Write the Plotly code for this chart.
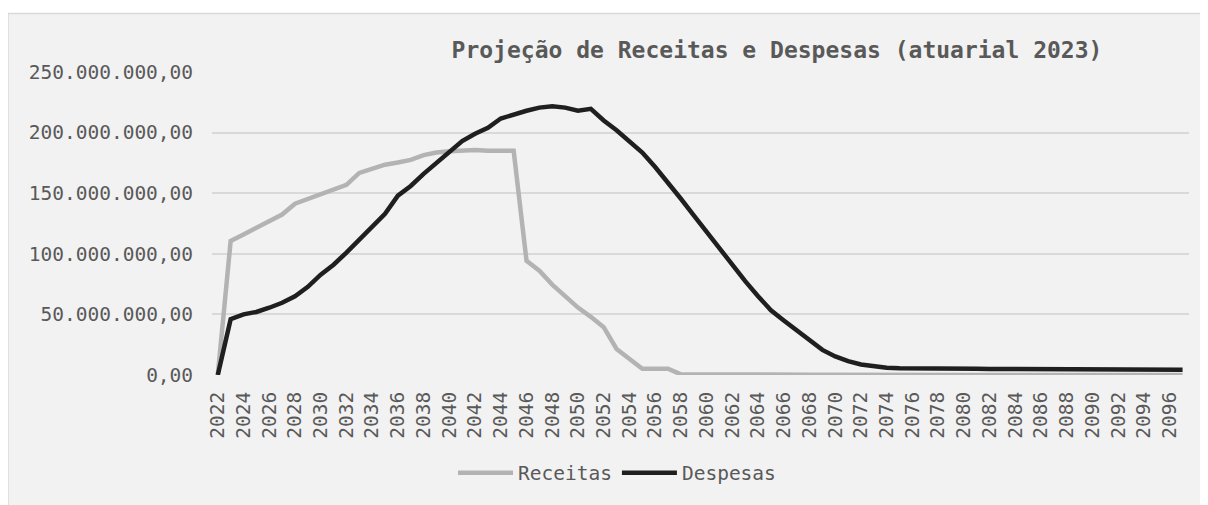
import plotly.graph_objects as go

years = list(range(2022, 2098))

receitas_mi = [
    0, 110.6, 116, 121.7, 127, 132.4, 141.3, 145.4, 148.7, 152.8,
    156.9, 166.7, 170, 173.5, 175.4, 177.5, 181.4, 183.6, 184.6, 185.2,
    185.7, 185, 185, 185, 94.2, 86, 74.6, 65, 55.6, 48,
    39.5, 21.5, 13.3, 5.2, 5.2, 5.2, 0.5, 0.4, 0.4, 0.4,
    0.4, 0.4, 0.3, 0.3, 0.3, 0.3, 0.3, 0.3, 0.2, 0.2,
    0.2, 0.2, 0.2, 0.2, 0.2, 0.2, 0.2, 0.2, 0.1, 0.1,
    0.1, 0.1, 0.1, 0.1, 0.1, 0.1, 0.1, 0.1, 0.1, 0.1,
    0.1, 0.1, 0.1, 0.1, 0.1, 0.1,
]

despesas_mi = [
    0, 46, 50, 52, 55.5, 59.6, 65, 72.7, 82.8, 91,
    101, 112, 122.5, 133, 148, 156, 166, 175, 184.6, 193,
    199, 204, 211.6, 215, 218, 220.6, 221.7, 220.6, 218, 219.6,
    210, 202, 193, 183.6, 171.6, 159, 145.4, 131.8, 118, 104,
    91, 77.4, 65, 53.4, 45, 37, 28.6, 20.7, 15.3, 11.4,
    8.7, 7.1, 6.0, 5.5, 5.3, 5.2, 5.2, 5.1, 5.1, 5.1,
    5.0, 5.0, 4.9, 4.9, 4.9, 4.8, 4.8, 4.8, 4.7, 4.7,
    4.6, 4.6, 4.5, 4.5, 4.4, 4.3,
]

tick_years = list(range(2022, 2097, 2))
y_ticks = [0, 50e6, 100e6, 150e6, 200e6, 250e6]

receitas = [v * 1e6 for v in receitas_mi]
despesas = [v * 1e6 for v in despesas_mi]

FONT = "DejaVu Sans Mono"
TXT = "#595959"

fig = go.Figure()
fig.add_trace(go.Scatter(x=years, y=receitas, mode="lines", name="Receitas",
                         line=dict(color="#b3b3b3", width=4.5)))
fig.add_trace(go.Scatter(x=years, y=despesas, mode="lines", name="Despesas",
                         line=dict(color="#1f1f1f", width=4.5)))

# page body has an 8px margin; work in page pixel coordinates
OFF = 8
W, H = 1208 - OFF, 505 - OFF
L = 212 - OFF
T = 72 - OFF
R = W - (1189 - OFF)
B = H - (378 - OFF)
pw, ph = W - L - R, H - T - B

def px_x(px):
    return (px - OFF - L) / pw

def px_y(py):
    return (H - B - (py - OFF)) / ph

fig.add_shape(type="rect", xref="paper", yref="paper",
              x0=px_x(8), x1=px_x(1225),
              y0=px_y(525), y1=px_y(13),
              fillcolor="#f2f2f2", line=dict(color="#d9d9d9", width=1.5),
              layer="below")

fig.update_layout(
    width=W, height=H,
    margin=dict(l=L, r=R, t=T, b=B),
    paper_bgcolor="white",
    plot_bgcolor="rgba(0,0,0,0)",
    separators=",.",
    font=dict(family=FONT, size=19.5, color=TXT),
    title=dict(text="<b>Projeção de Receitas e Despesas (atuarial 2023)</b>",
               xref="paper", x=px_x(777), xanchor="center",
               yref="container", y=1 - (50 - OFF) / H, yanchor="middle",
               font=dict(family=FONT, size=23, color=TXT)),
    xaxis=dict(range=[2021.55, 2097.5], tickmode="array", tickvals=tick_years,
               ticktext=[str(t) for t in tick_years], tickangle=-90,
               showgrid=False, zeroline=False, showline=False,
               ticks="outside", ticklen=8, tickcolor="rgba(0,0,0,0)",
               tickfont=dict(family=FONT, size=19.5, color=TXT)),
    yaxis=dict(range=[0, 250e6], tickmode="array", tickvals=y_ticks,
               tickformat=",.2f", showgrid=True, gridcolor="#d9d9d9",
               gridwidth=1.5, zeroline=False, showline=False,
               ticks="outside", ticklen=14, tickcolor="rgba(0,0,0,0)",
               tickfont=dict(family=FONT, size=19.5, color=TXT)),
    legend=dict(orientation="h", xref="paper", x=px_x(617),
                xanchor="center", yref="paper", y=px_y(477),
                yanchor="middle", bgcolor="rgba(0,0,0,0)", itemwidth=55,
                font=dict(family=FONT, size=19.5, color=TXT)),
    showlegend=True,
)

fig.write_html("out.html")
